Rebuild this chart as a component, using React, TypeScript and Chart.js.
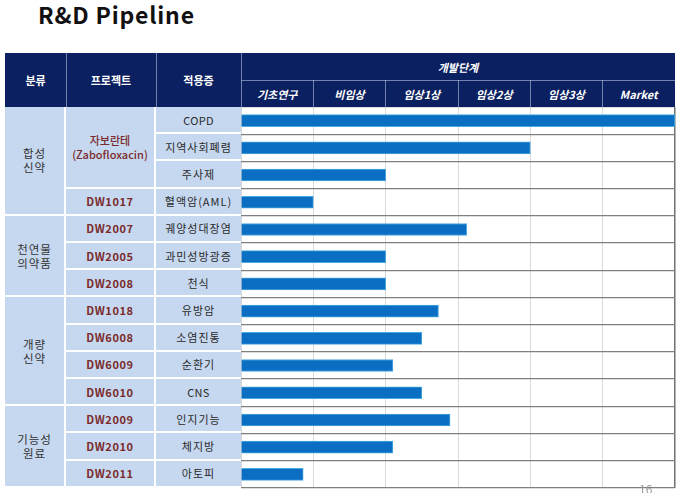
import React, { useEffect, useRef } from "react";
import { Chart, registerables } from "chart.js";

Chart.register(...registerables);

const stages = ["기초연구", "비임상", "임상1상", "임상2상", "임상3상", "Market"];
const indications = [
  "COPD",
  "지역사회폐렴",
  "주사제",
  "혈액암(AML)",
  "궤양성대장염",
  "과민성방광증",
  "천식",
  "유방암",
  "소염진통",
  "순환기",
  "CNS",
  "인지기능",
  "체지방",
  "아토피",
];
const progress = [6, 4, 2, 1, 3.12, 2, 2, 2.73, 2.5, 2.1, 2.5, 2.89, 2.1, 0.86];
const groupLabels = [["합성", "신약"], ["천연물", "의약품"], ["개량", "신약"], ["기능성", "원료"]];
const groupSpans = [4, 3, 4, 3];
const projectLabels = [
  ["자보란테", "(Zabofloxacin)"],
  ["DW1017"],
  ["DW2007"],
  ["DW2005"],
  ["DW2008"],
  ["DW1018"],
  ["DW6008"],
  ["DW6009"],
  ["DW6010"],
  ["DW2009"],
  ["DW2010"],
  ["DW2011"],
];
const projectSpans = [3, 1, 1, 1, 1, 1, 1, 1, 1, 1, 1, 1];

const FONT = "'Noto Sans CJK KR', 'Noto Sans', sans-serif";
const NAVY = "#0b2060";
const CELL = "#c6d8ef";
const COLS = [5, 66, 156, 241];
const BAR_L = 241;
const BAR_R = 675;
const TOP = 107;
const ROW_H = 27.2;
const HEAD_T = 53;
const HEAD_M = 80;

function spanCells(spans: number[]) {
  const out: { start: number; span: number }[] = [];
  let s = 0;
  for (const sp of spans) {
    out.push({ start: s, span: sp });
    s += sp;
  }
  return out;
}

export default function App() {
  const ref = useRef<HTMLCanvasElement | null>(null);

  useEffect(() => {
    if (!ref.current) return;
    const chart = new Chart(ref.current, {
      type: "bar",
      data: {
        labels: indications,
        datasets: [
          {
            data: progress,
            backgroundColor: "#0a6fc2",
            borderColor: "#4aa9e2",
            borderWidth: 1,
            barThickness: 12,
          },
        ],
      },
      options: {
        indexAxis: "y",
        responsive: false,
        animation: false,
        layout: { padding: { top: 0, right: 1, bottom: 1, left: 0 } },
        plugins: { legend: { display: false }, tooltip: { enabled: false } },
        scales: {
          x: {
            min: 0,
            max: 6,
            ticks: { display: false, stepSize: 1 },
            grid: {
              drawTicks: false,
              color: (c: any) => (c.tick && c.tick.value === 6 ? "#707070" : "#d9d9d9"),
              lineWidth: (c: any) => (c.tick && c.tick.value === 6 ? 1.5 : 1),
            },
            border: { display: false },
          },
          y: {
            ticks: { display: false },
            grid: { drawTicks: false, offset: true, color: "#7f7f7f", lineWidth: 1.3 },
            border: { display: false },
          },
        },
      },
    });
    return () => chart.destroy();
  }, []);

  const abs = (l: number, t: number, w: number, h: number): React.CSSProperties => ({
    position: "absolute",
    left: l,
    top: t,
    width: w,
    height: h,
    boxSizing: "border-box",
    display: "flex",
    flexDirection: "column",
    alignItems: "center",
    justifyContent: "center",
    textAlign: "center",
  });

  const headerText: React.CSSProperties = {
    color: "#ffffff",
    fontWeight: 700,
    fontSize: 11,
  };

  const sepColor = "rgba(200,210,235,0.55)";
  const stageW = (BAR_R - BAR_L) / 6;

  const groupCells = spanCells(groupSpans);
  const projectCells = spanCells(projectSpans);
  const isLatin = (s: string) => /^[A-Za-z]+$/.test(s);

  return (
    <div
      style={{
        position: "fixed",
        left: 0,
        top: 0,
        width: 680,
        height: 493,
        overflow: "hidden",
        background: "#ffffff",
        fontFamily: FONT,
      }}
    >
      <div
        style={{
          position: "absolute",
          left: 38,
          top: -3,
          fontSize: 23,
          fontWeight: 700,
          letterSpacing: 0.8,
          color: "#111",
          whiteSpace: "nowrap",
        }}
      >
        R&amp;D Pipeline
      </div>

      {/* header */}
      <div style={{ position: "absolute", left: COLS[0], top: HEAD_T, width: BAR_R - COLS[0], height: TOP - HEAD_T, background: NAVY }} />
      {["분류", "프로젝트", "적용증"].map((t, i) => (
        <div key={t} style={abs(COLS[i], HEAD_T, COLS[i + 1] - COLS[i], TOP - HEAD_T)}>
          <span style={headerText}>{t}</span>
        </div>
      ))}
      {[COLS[1], COLS[2], COLS[3]].map((x) => (
        <div key={"hs" + x} style={{ position: "absolute", left: x - 0.5, top: HEAD_T, width: 1, height: TOP - HEAD_T, background: sepColor }} />
      ))}
      <div style={{ position: "absolute", left: BAR_L, top: HEAD_M - 0.5, width: BAR_R - BAR_L, height: 1, background: sepColor }} />
      <div style={abs(BAR_L, HEAD_T, BAR_R - BAR_L, HEAD_M - HEAD_T)}>
        <span style={{ ...headerText, fontStyle: "italic" }}>개발단계</span>
      </div>
      {stages.map((s, i) => (
        <div key={s} style={abs(BAR_L + i * stageW, HEAD_M, stageW, TOP - HEAD_M)}>
          <span style={{ ...headerText, fontStyle: "italic" }}>{s}</span>
        </div>
      ))}
      {stages.slice(1).map((s, i) => (
        <div key={"ss" + s} style={{ position: "absolute", left: BAR_L + (i + 1) * stageW - 0.5, top: HEAD_M, width: 1, height: TOP - HEAD_M, background: sepColor }} />
      ))}

      {/* left table */}
      {groupCells.map((g, i) => (
        <div
          key={"g" + i}
          style={{
            ...abs(COLS[0], TOP + g.start * ROW_H, COLS[1] - COLS[0], g.span * ROW_H),
            background: CELL,
            borderRight: "2px solid #fff",
            borderBottom: "2px solid #fff",
          }}
        >
          {groupLabels[i].map((l) => (
            <span key={l} style={{ fontSize: 11.5, color: "#333", lineHeight: "14px", letterSpacing: 1 }}>
              {l}
            </span>
          ))}
        </div>
      ))}
      {projectCells.map((p, i) => (
        <div
          key={"p" + i}
          style={{
            ...abs(COLS[1], TOP + p.start * ROW_H, COLS[2] - COLS[1], p.span * ROW_H),
            background: CELL,
            borderRight: "2px solid #fff",
            borderBottom: "2px solid #fff",
          }}
        >
          {projectLabels[i].map((l) => (
            <span
              key={l}
              style={{
                fontSize: 11,
                color: "#7a2b2b",
                fontWeight: projectLabels[i].length > 1 ? 500 : 600,
                lineHeight: "14px",
                letterSpacing: projectLabels[i].length > 1 ? 0 : 0.6,
              }}
            >
              {l}
            </span>
          ))}
        </div>
      ))}
      {indications.map((d, i) => (
        <div
          key={"d" + i}
          style={{
            ...abs(COLS[2], TOP + i * ROW_H, COLS[3] - COLS[2], ROW_H),
            background: CELL,
            borderBottom: "2px solid #fff",
          }}
        >
          <span style={{ fontSize: 11, color: "#2a2a2a", letterSpacing: isLatin(d) ? 0.3 : 1 }}>{d}</span>
        </div>
      ))}

      <canvas
        ref={ref}
        width={BAR_R - BAR_L + 1}
        height={Math.round(14 * ROW_H) + 1}
        style={{ position: "absolute", left: BAR_L, top: TOP }}
      />

      <div style={{ position: "absolute", left: 639, top: 480, fontSize: 12, color: "#9a9a9a" }}>16</div>
    </div>
  );
}
